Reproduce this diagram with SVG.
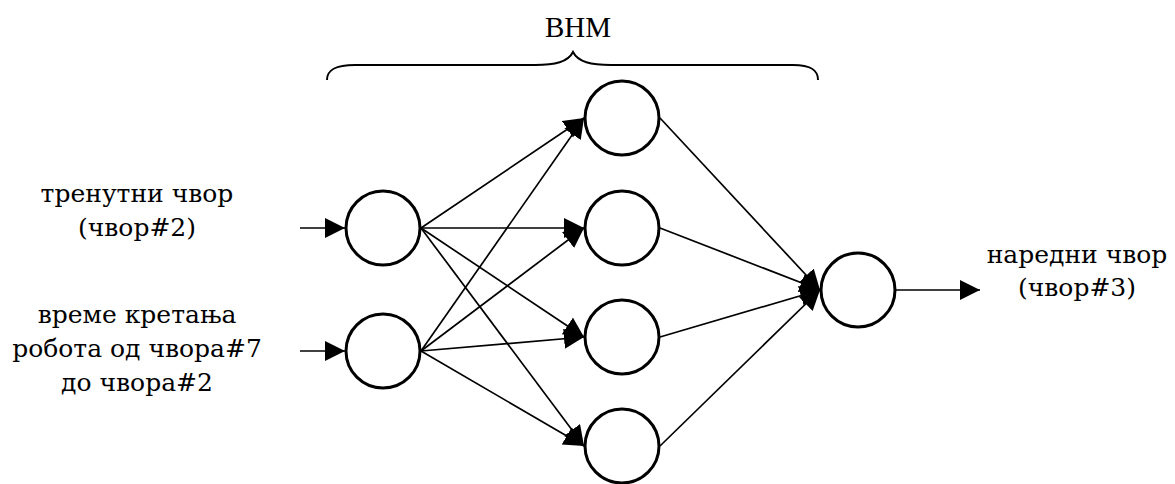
<svg xmlns="http://www.w3.org/2000/svg" width="1175" height="484" viewBox="0 0 1175 484">
<defs>
<style>
.node{fill:#fff;stroke:#000;stroke-width:3}
.edge{stroke:#000;stroke-width:1.7;fill:none;marker-end:url(#arr)}
.lbl{font-family:"DejaVu Serif","Liberation Serif",serif;font-size:25px;fill:#000;text-anchor:middle}
.title{font-family:"Liberation Serif",serif;font-size:29px;fill:#000;text-anchor:middle}
</style>
<marker id="arr" markerUnits="userSpaceOnUse" markerWidth="22" markerHeight="22" refX="20" refY="10" orient="auto">
<path d="M0,0 L20,10 L0,20 z" fill="#000"/>
</marker>
</defs>
<rect width="1175" height="484" fill="#fff"/>
<g id="connectors">
<line class="edge" x1="300" y1="228" x2="345" y2="228"/>
<line class="edge" x1="300" y1="351" x2="345" y2="351"/>
<line class="edge" x1="421" y1="228" x2="584" y2="118"/>
<line class="edge" x1="421" y1="228" x2="584" y2="228"/>
<line class="edge" x1="421" y1="228" x2="584" y2="337"/>
<line class="edge" x1="421" y1="228" x2="584" y2="446"/>
<line class="edge" x1="421" y1="351" x2="584" y2="118"/>
<line class="edge" x1="421" y1="351" x2="584" y2="228"/>
<line class="edge" x1="421" y1="351" x2="584" y2="337"/>
<line class="edge" x1="421" y1="351" x2="584" y2="446"/>
<line class="edge" x1="660" y1="118" x2="820" y2="290"/>
<line class="edge" x1="660" y1="228" x2="820" y2="290"/>
<line class="edge" x1="660" y1="337" x2="820" y2="290"/>
<line class="edge" x1="660" y1="446" x2="820" y2="290"/>
<line class="edge" x1="896" y1="290" x2="980" y2="290"/>
</g>
<g id="brace">
<path d="M327,80 C327,70 335,65 355,65 L535,65 C555,65 568,62 573,52 C578,62 591,65 611,65 L793,65 C811,65 818,70 818,80" fill="none" stroke="#000" stroke-width="2"/>
<text class="title" x="578" y="37">ВНМ</text>
</g>
<g id="in1"><circle class="node" cx="383" cy="228" r="37"/></g>
<g id="in2"><circle class="node" cx="383" cy="351" r="37"/></g>
<g id="h1"><circle class="node" cx="622" cy="118" r="37"/></g>
<g id="h2"><circle class="node" cx="622" cy="228" r="37"/></g>
<g id="h3"><circle class="node" cx="622" cy="337" r="37"/></g>
<g id="h4"><circle class="node" cx="622" cy="446" r="37"/></g>
<g id="out"><circle class="node" cx="858" cy="290" r="37"/></g>
<g id="label-in1">
<text class="lbl" x="137" y="202">тренутни чвор</text>
<text class="lbl" x="137" y="236">(чвор#2)</text>
</g>
<g id="label-in2">
<text class="lbl" x="137" y="323">време кретања</text>
<text class="lbl" x="137" y="357">робота од чвора#7</text>
<text class="lbl" x="137" y="391">до чвора#2</text>
</g>
<g id="label-out">
<text class="lbl" x="1077" y="263">наредни чвор</text>
<text class="lbl" x="1077" y="296">(чвор#3)</text>
</g>
</svg>
